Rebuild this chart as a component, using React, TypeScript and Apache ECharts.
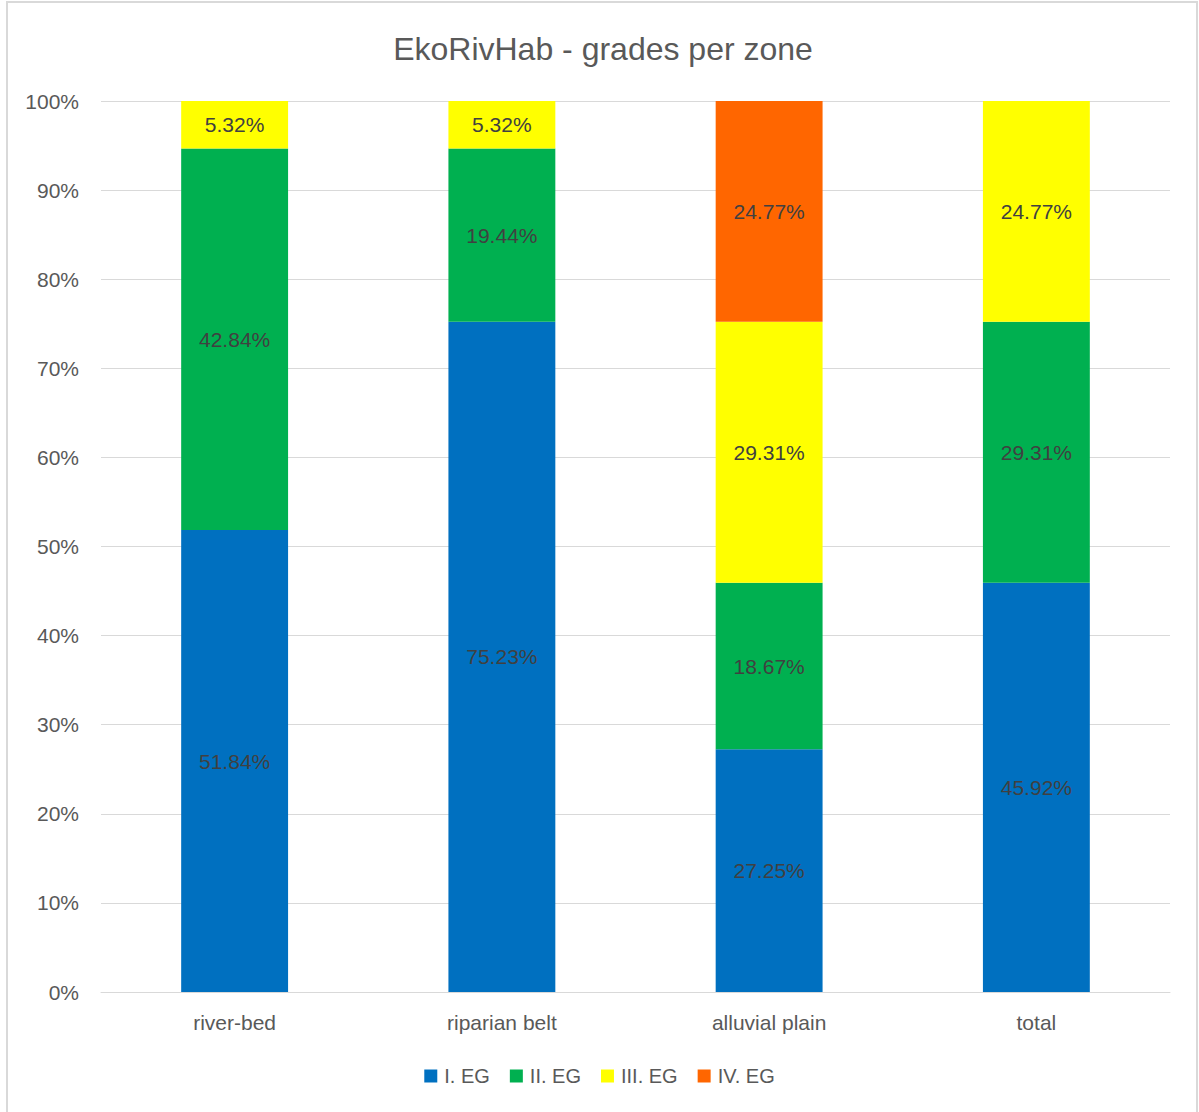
import React, { useEffect, useRef } from "react";
import * as echarts from "echarts";

// Zones along the river and the share of each ecological grade (in %)
const zones = ["river-bed", "riparian belt", "alluvial plain", "total"];
const gradeNames = ["I. EG", "II. EG", "III. EG", "IV. EG"];
const gradeI = [51.84, 75.23, 27.25, 45.92];
const gradeII = [42.84, 19.44, 18.67, 29.31];
const gradeIII = [5.32, 5.32, 29.31, 24.77];
const gradeIV = [0, 0, 24.77, 0];
const yTicks = [0, 10, 20, 30, 40, 50, 60, 70, 80, 90, 100];

const gradeColors = ["#0070C0", "#00B050", "#FFFF00", "#FF6600"];
const FONT = "'Liberation Sans', Arial, sans-serif";

export default function App() {
  const ref = useRef<HTMLDivElement>(null);

  useEffect(() => {
    document.body.style.margin = "0";
    if (!ref.current) return;
    const chart = echarts.init(ref.current, undefined, { renderer: "svg" });
    const values = [gradeI, gradeII, gradeIII, gradeIV];

    chart.setOption({
      animation: false,
      backgroundColor: "#ffffff",
      textStyle: { fontFamily: FONT },
      title: {
        text: "EkoRivHab - grades per zone",
        left: 598,
        textAlign: "center",
        top: 28,
        textStyle: { fontFamily: FONT, fontSize: 32, fontWeight: "normal", color: "#595959" },
      },
      graphic: [
        {
          type: "rect",
          shape: { x: 7, y: 2, width: 1190, height: 1114 },
          style: { fill: "none", stroke: "#d9d9d9", lineWidth: 2 },
          silent: true,
        },
      ],
      legend: {
        data: gradeNames,
        bottom: 21,
        left: "center",
        itemWidth: 13,
        itemHeight: 13,
        itemGap: 20,
        icon: "rect",
        textStyle: { fontFamily: FONT, fontSize: 20, color: "#595959", padding: [0, 0, 0, 2] },
      },
      grid: { left: 101, right: 29, top: 101, bottom: 120 },
      xAxis: {
        type: "category",
        data: zones,
        axisLine: { lineStyle: { color: "#d9d9d9", width: 1 } },
        axisTick: { show: false },
        axisLabel: { fontFamily: FONT, fontSize: 21, color: "#595959", margin: 20 },
      },
      yAxis: {
        type: "value",
        min: yTicks[0],
        max: yTicks[yTicks.length - 1],
        interval: yTicks[1] - yTicks[0],
        axisLine: { show: false },
        axisTick: { show: false },
        splitLine: { lineStyle: { color: "#d9d9d9", width: 1 } },
        axisLabel: {
          fontFamily: FONT,
          fontSize: 21,
          color: "#595959",
          margin: 22,
          formatter: (v: number) => `${v}%`,
        },
      },
      series: gradeNames.map((name, i) => ({
        name,
        type: "bar",
        stack: "grades",
        barWidth: "40%",
        itemStyle: { color: gradeColors[i] },
        label: {
          show: true,
          position: "inside",
          fontFamily: FONT,
          fontSize: 21,
          color: "#404040",
          formatter: (p: any) => (p.value > 0 ? `${p.value.toFixed(2)}%` : ""),
        },
        data: values[i],
      })),
    });

    return () => chart.dispose();
  }, []);

  return <div ref={ref} style={{ width: 1199, height: 1112 }} />;
}
